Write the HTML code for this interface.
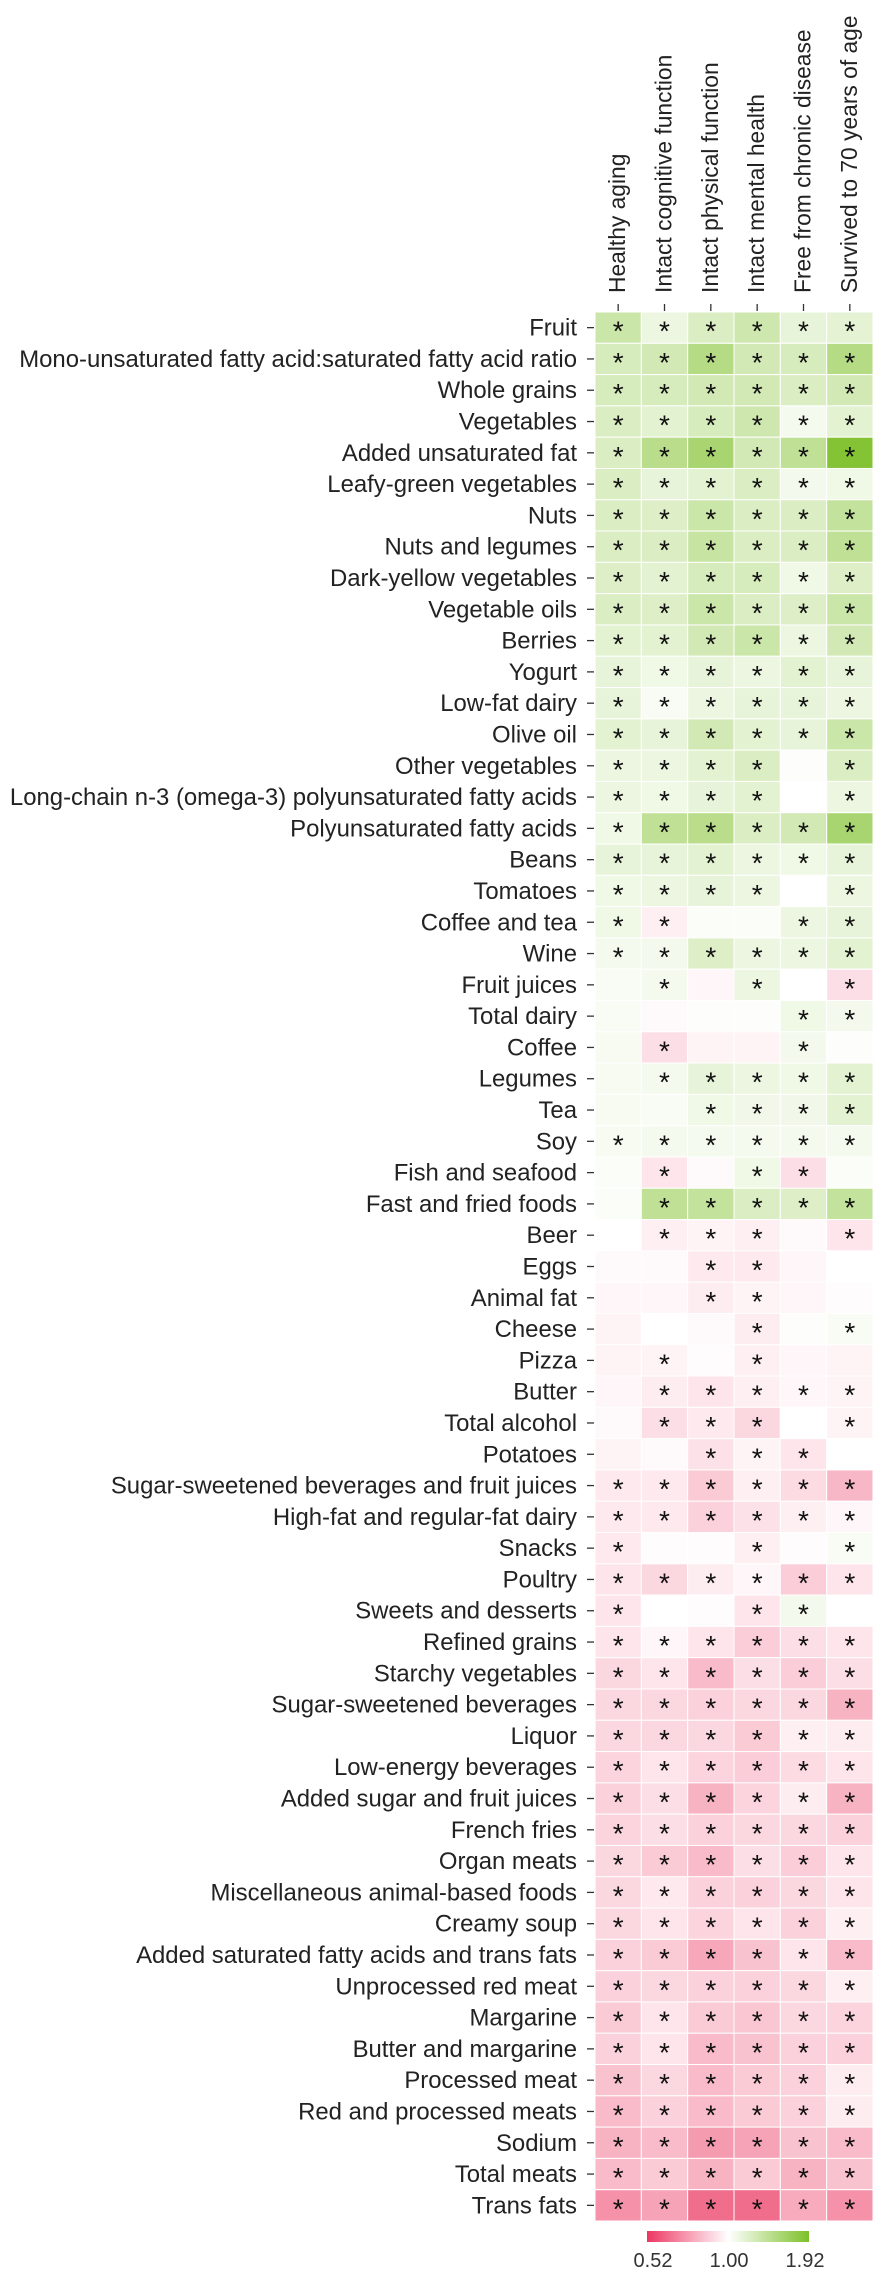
<!DOCTYPE html>
<html><head><meta charset="utf-8">
<style>
html,body{margin:0;padding:0;background:#fff;}
svg{display:block;font-family:"Liberation Sans",sans-serif;}
</style></head>
<body>
<svg id="chart" width="879" height="2274" viewBox="0 0 879 2274" xmlns="http://www.w3.org/2000/svg"></svg>
<script>
const outcomes = ["Healthy aging","Intact cognitive function","Intact physical function","Intact mental health","Free from chronic disease","Survived to 70 years of age"];
const foods = ["Fruit","Mono-unsaturated fatty acid:saturated fatty acid ratio","Whole grains","Vegetables","Added unsaturated fat","Leafy-green vegetables","Nuts","Nuts and legumes","Dark-yellow vegetables","Vegetable oils","Berries","Yogurt","Low-fat dairy","Olive oil","Other vegetables","Long-chain n-3 (omega-3) polyunsaturated fatty acids","Polyunsaturated fatty acids","Beans","Tomatoes","Coffee and tea","Wine","Fruit juices","Total dairy","Coffee","Legumes","Tea","Soy","Fish and seafood","Fast and fried foods","Beer","Eggs","Animal fat","Cheese","Pizza","Butter","Total alcohol","Potatoes","Sugar-sweetened beverages and fruit juices","High-fat and regular-fat dairy","Snacks","Poultry","Sweets and desserts","Refined grains","Starchy vegetables","Sugar-sweetened beverages","Liquor","Low-energy beverages","Added sugar and fruit juices","French fries","Organ meats","Miscellaneous animal-based foods","Creamy soup","Added saturated fatty acids and trans fats","Unprocessed red meat","Margarine","Butter and margarine","Processed meat","Red and processed meats","Sodium","Total meats","Trans fats"];
const oddsRatios = [
[1.30,1.10,1.20,1.28,1.12,1.14],[1.22,1.25,1.45,1.25,1.22,1.45],[1.22,1.22,1.25,1.25,1.20,1.25],[1.20,1.15,1.22,1.28,1.05,1.15],[1.20,1.42,1.55,1.25,1.38,1.85],
[1.20,1.12,1.15,1.20,1.06,1.08],[1.20,1.18,1.30,1.20,1.20,1.35],[1.20,1.20,1.32,1.20,1.20,1.38],[1.18,1.15,1.22,1.22,1.08,1.18],[1.20,1.18,1.30,1.20,1.18,1.30],
[1.15,1.15,1.25,1.30,1.10,1.25],[1.12,1.08,1.12,1.10,1.15,1.12],[1.12,1.03,1.10,1.12,1.12,1.10],[1.15,1.12,1.25,1.15,1.12,1.30],[1.10,1.10,1.15,1.20,1.01,1.20],
[1.10,1.08,1.12,1.15,1.00,1.10],[1.08,1.38,1.42,1.20,1.25,1.55],[1.12,1.12,1.15,1.10,1.08,1.12],[1.08,1.10,1.12,1.10,1.00,1.10],[1.08,0.95,1.02,1.02,1.10,1.12],
[1.05,1.06,1.18,1.10,1.10,1.15],[1.03,1.05,0.97,1.10,1.00,0.90],[1.03,0.98,1.01,1.01,1.08,1.06],[1.04,0.90,0.96,0.96,1.06,1.01],[1.04,1.05,1.12,1.10,1.08,1.15],
[1.04,1.03,1.08,1.07,1.07,1.15],[1.04,1.05,1.05,1.05,1.05,1.05],[1.02,0.92,0.98,1.08,0.90,1.02],[1.02,1.38,1.35,1.20,1.18,1.35],[1.00,0.95,0.96,0.95,0.98,0.92],
[0.98,0.98,0.93,0.93,0.97,1.00],[0.97,0.97,0.94,0.96,0.97,0.99],[0.96,1.00,0.98,0.94,1.01,1.03],[0.96,0.96,0.99,0.95,0.97,0.96],[0.97,0.94,0.92,0.95,0.97,0.96],
[0.98,0.90,0.93,0.88,1.00,0.96],[0.96,0.98,0.91,0.96,0.92,1.00],[0.93,0.93,0.84,0.95,0.89,0.79],[0.93,0.93,0.86,0.91,0.95,0.97],[0.93,0.99,0.99,0.95,0.99,1.03],
[0.92,0.88,0.94,0.97,0.85,0.92],[0.92,1.00,0.99,0.92,1.06,1.00],[0.92,0.97,0.92,0.85,0.90,0.92],[0.88,0.92,0.80,0.90,0.85,0.90],[0.88,0.88,0.86,0.88,0.88,0.78],
[0.88,0.88,0.88,0.84,0.95,0.94],[0.87,0.92,0.87,0.85,0.89,0.92],[0.86,0.90,0.78,0.87,0.94,0.78],[0.87,0.90,0.86,0.88,0.88,0.86],[0.88,0.84,0.80,0.90,0.85,0.92],
[0.88,0.93,0.86,0.86,0.88,0.92],[0.88,0.92,0.87,0.92,0.86,0.95],[0.86,0.84,0.75,0.82,0.92,0.80],[0.86,0.88,0.86,0.86,0.88,0.95],[0.84,0.92,0.84,0.83,0.88,0.87],
[0.86,0.92,0.80,0.82,0.86,0.86],[0.82,0.88,0.80,0.84,0.86,0.94],[0.80,0.86,0.80,0.84,0.86,0.94],[0.78,0.80,0.72,0.74,0.82,0.80],[0.80,0.84,0.78,0.84,0.78,0.82],
[0.70,0.74,0.62,0.62,0.76,0.70]];
const significant = ["111111","111111","111111","111111","111111","111111","111111","111111","111111","111111",
"111111","111111","111111","111111","111101","111101","111111","111111","111101","110011",
"111111","010101","000011","010010","011111","001111","111111","010110","011111","011101",
"001100","001100","000101","010100","011111","011101","001110","111111","111111","100101",
"111111","100110","111111","111111","111111","111111","111111","111111","111111","111111",
"111111","111111","111111","111111","111111","111111","111111","111111","111111","111111","111111"];
const legendTicks = [0.52, 1.00, 1.92];

const NS = "http://www.w3.org/2000/svg";
const svg = document.getElementById("chart");
const X0 = 595, X1 = 873, Y0 = 312, Y1 = 2221;
const cw = (X1 - X0) / outcomes.length, rh = (Y1 - Y0) / foods.length;
const LMIN = Math.log(0.52), LMAX = Math.log(1.92);
const xCol = i => X0 + i * cw;
const yRow = j => Y0 + j * rh;
function color(v) {
  const l = Math.log(v);
  const pink = [236, 55, 98], green = [125, 192, 40];
  let t, c;
  if (l < 0) { t = Math.min(1, l / LMIN); c = pink; } else { t = Math.min(1, l / LMAX); c = green; }
  return "rgb(" + [0,1,2].map(k => Math.round(255 + (c[k] - 255) * t)).join(",") + ")";
}
function mk(tag, attrs, parent) {
  const e = document.createElementNS(NS, tag);
  for (const k in attrs) e.setAttribute(k, attrs[k]);
  (parent || svg).appendChild(e);
  return e;
}
outcomes.forEach((o, i) => {
  const cx = xCol(i) + cw / 2;
  const t = mk("text", {x: 0, y: 0, transform: "translate(" + (cx + 7) + ",293) rotate(-90)", "font-size": 22.8, fill: "#222"});
  
  
  t.textContent = o;
  const tk = mk("line", {x1: cx, x2: cx, y1: 304, y2: 311, stroke: "#333", "stroke-width": 1.3});
  
  
});
foods.forEach((f, j) => {
  const cy = yRow(j) + rh / 2;
  const t = mk("text", {x: 577, y: cy + 8, "text-anchor": "end", "font-size": 23.9, fill: "#222"});
  
  
  t.textContent = f;
  const tk = mk("line", {x1: 587, x2: 594, y1: cy, y2: cy, stroke: "#333", "stroke-width": 1.3});
  
  
  oddsRatios[j].forEach((v, i) => {
    const r = mk("rect", {x: xCol(i), y: yRow(j), width: cw, height: rh, fill: color(v), stroke: "#fff", "stroke-width": 1});
    
    
    if (significant[j][i] === "1") {
      const s = mk("text", {x: xCol(i) + cw / 2, y: yRow(j) + rh / 2 + 13, "text-anchor": "middle", "font-size": 28, fill: "#111"});
      
      
      s.textContent = "*";
    }
  });
});
const defs = mk("defs", {});
const grad = mk("linearGradient", {id: "cbar", x1: 0, x2: 1, y1: 0, y2: 0}, defs);
[0.52, 0.62, 0.75, 0.87, 1.0, 1.15, 1.35, 1.6, 1.92].forEach(v => {
  mk("stop", {offset: (Math.log(v) - LMIN) / (LMAX - LMIN), "stop-color": color(v)}, grad);
});
const LX0 = 653, LX1 = 805;
const lx = v => LX0 + (Math.log(v) - LMIN) / (LMAX - LMIN) * (LX1 - LX0);
const cb = mk("rect", {x: 647, y: 2231, width: 162, height: 11, fill: "url(#cbar)"});


legendTicks.forEach(v => {
  const t = mk("text", {x: lx(v), y: 2267, "text-anchor": "middle", "font-size": 20, fill: "#333"});
  
  
  t.textContent = v.toFixed(2);
});
</script>
</body></html>
